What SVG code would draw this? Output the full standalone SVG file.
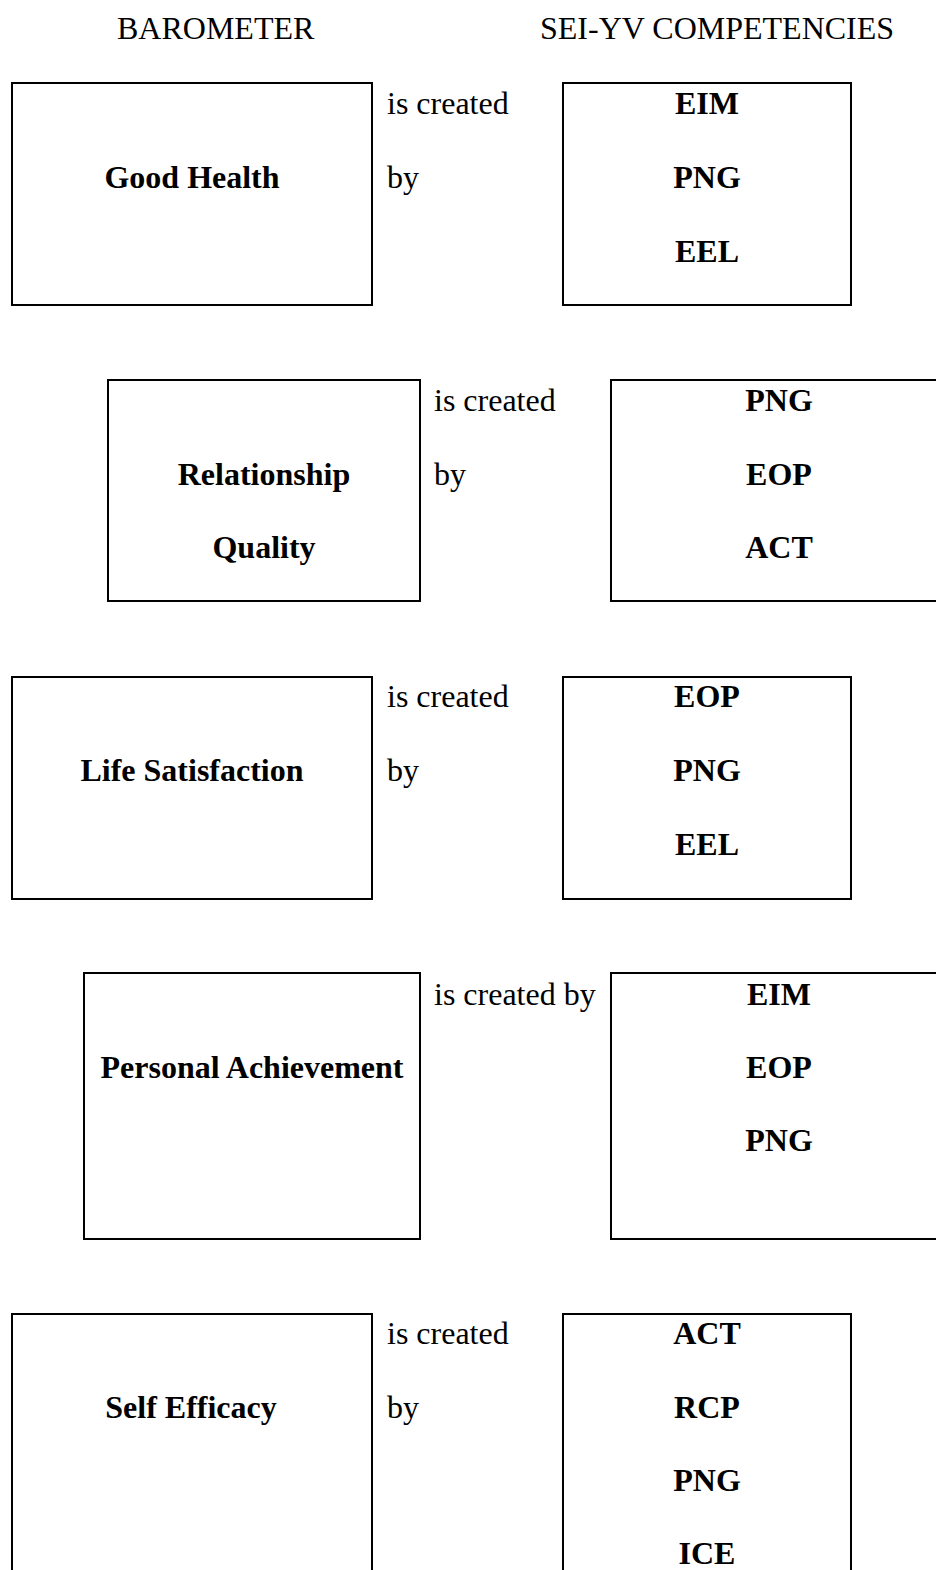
<svg xmlns="http://www.w3.org/2000/svg" width="936" height="1570" viewBox="0 0 936 1570">
<style>
.box{fill:#fff;stroke:#000;stroke-width:2}
.t{font-family:"Liberation Serif","Times New Roman",serif;font-size:32px;fill:#000}
.b{font-weight:bold;text-anchor:middle}
</style>
<rect width="936" height="1570" fill="#fff"/>
<g id="headers">
<text class="t" x="117" y="39">BAROMETER</text>
<text class="t" x="540" y="39">SEI-YV COMPETENCIES</text>
</g>
<g id="connectors">
<text class="t" x="387" y="114">is created</text>
<text class="t" x="387" y="188">by</text>
<text class="t" x="434" y="411">is created</text>
<text class="t" x="434" y="485">by</text>
<text class="t" x="387" y="707">is created</text>
<text class="t" x="387" y="781">by</text>
<text class="t" x="434" y="1005">is created by</text>
<text class="t" x="387" y="1344">is created</text>
<text class="t" x="387" y="1418">by</text>
</g>
<g id="good-health">
<rect class="box" x="12" y="83" width="360" height="222"/>
<text class="t b" x="192" y="188">Good Health</text>
</g>
<g id="comp-1">
<rect class="box" x="563" y="83" width="288" height="222"/>
<text class="t b" x="707" y="114">EIM</text>
<text class="t b" x="707" y="188">PNG</text>
<text class="t b" x="707" y="262">EEL</text>
</g>
<g id="relationship-quality">
<rect class="box" x="108" y="380" width="312" height="221"/>
<text class="t b" x="264" y="485">Relationship</text>
<text class="t b" x="264" y="558">Quality</text>
</g>
<g id="comp-2">
<rect class="box" x="611" y="380" width="336" height="221"/>
<text class="t b" x="779" y="411">PNG</text>
<text class="t b" x="779" y="485">EOP</text>
<text class="t b" x="779" y="558">ACT</text>
</g>
<g id="life-satisfaction">
<rect class="box" x="12" y="677" width="360" height="222"/>
<text class="t b" x="192" y="781">Life Satisfaction</text>
</g>
<g id="comp-3">
<rect class="box" x="563" y="677" width="288" height="222"/>
<text class="t b" x="707" y="707">EOP</text>
<text class="t b" x="707" y="781">PNG</text>
<text class="t b" x="707" y="855">EEL</text>
</g>
<g id="personal-achievement">
<rect class="box" x="84" y="973" width="336" height="266"/>
<text class="t b" x="252" y="1078">Personal Achievement</text>
</g>
<g id="comp-4">
<rect class="box" x="611" y="973" width="336" height="266"/>
<text class="t b" x="779" y="1005">EIM</text>
<text class="t b" x="779" y="1078">EOP</text>
<text class="t b" x="779" y="1151">PNG</text>
</g>
<g id="self-efficacy">
<rect class="box" x="12" y="1314" width="360" height="280"/>
<text class="t b" x="191" y="1418">Self Efficacy</text>
</g>
<g id="comp-5">
<rect class="box" x="563" y="1314" width="288" height="280"/>
<text class="t b" x="707" y="1344">ACT</text>
<text class="t b" x="707" y="1418">RCP</text>
<text class="t b" x="707" y="1491">PNG</text>
<text class="t b" x="707" y="1564">ICE</text>
</g>
</svg>
